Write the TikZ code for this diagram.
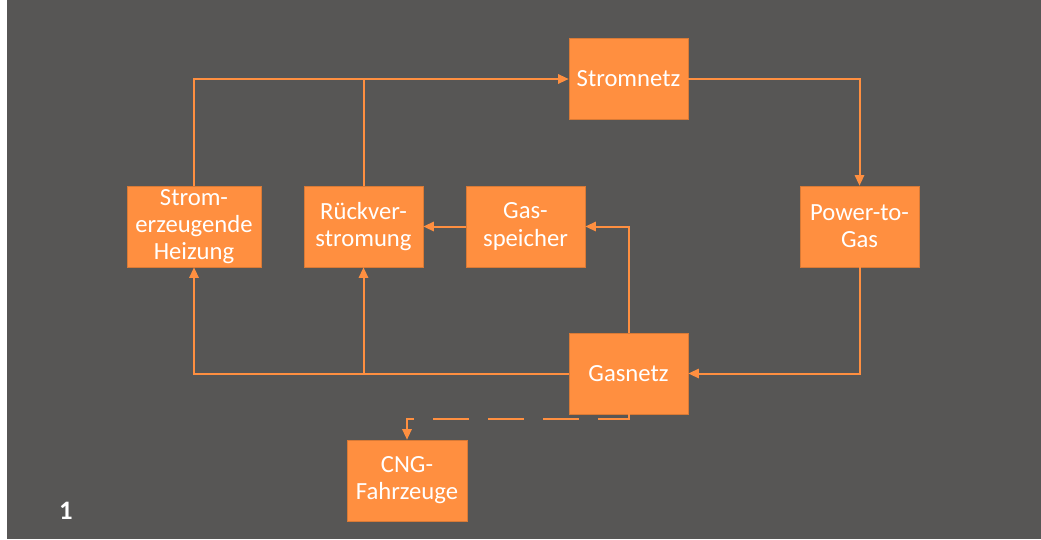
\documentclass[tikz,border=0pt]{standalone}
\usepackage{fontspec}
\setmainfont{Carlito}
\usetikzlibrary{arrows.meta, positioning}
\definecolor{bggray}{HTML}{575655}
\definecolor{netorange}{HTML}{FF8F40}

\begin{document}
\begin{tikzpicture}[
    x=0.75pt, y=-0.75pt,
    >={Triangle[length=8pt, width=7pt]},
    font=\fontsize{18.5}{20.3}\selectfont,
    % Styles
    box/.style={draw=netorange!85!black, line width=0.4pt, fill=netorange, text=white, align=center, minimum width=89.25pt, minimum height=60.75pt, inner sep=2pt},
    flow/.style={draw=netorange, line width=1.5pt},
    car/.style={flow, dash pattern=on 27pt off 14.25pt}
]

% 0. Background
\fill[white] (0,0) rectangle (1041,539);
\fill[bggray] (7,0) rectangle (1041,539);
\useasboundingbox (0,0) rectangle (1041,539);

% 1. Nodes
\node[box] (strom) at (628.5,79) {Stromnetz};
\node[box, minimum width=100.5pt] (heiz) at (194,226.5) {Strom-\\erzeugende\\Heizung};
\node[box] (rueck) at (363.5,226.5) {Rückver-\\stromung};
\node[box] (speicher) at (525.5,226.5) {Gas-\\speicher};
\node[box] (ptg) at (859.5,226.5) {Power-to-\\Gas};
\node[box] (gas) at (628.5,373.5) {Gasnetz};
\node[box, minimum width=90pt] (cng) at (407,480.5) {CNG-\\Fahrzeuge};
\node[font=\bfseries\fontsize{20}{22}\selectfont, text=white] (nr) at (66,511) {1};

% 2. Strom
\draw[flow, ->] (heiz.north) |- (strom.west);
\draw[flow] (rueck.north) -- (rueck.north |- strom.west);
\draw[flow, ->] (strom.east) -| (ptg.north);

% 3. Gas
\draw[flow, ->] (ptg.south) |- (gas.east);
\draw[flow, ->] (gas.west) -| (heiz.south);
\draw[flow, ->] (rueck.south |- gas.west) -- (rueck.south);
\draw[flow, ->] (gas.north) |- (speicher.east);
\draw[flow, ->] (speicher.west) -- (rueck.east);

% 4. Fahrzeuge
\draw[car, ->] (gas.south) -- ++(0,5) -| (cng.north);

\end{tikzpicture}
\end{document}
